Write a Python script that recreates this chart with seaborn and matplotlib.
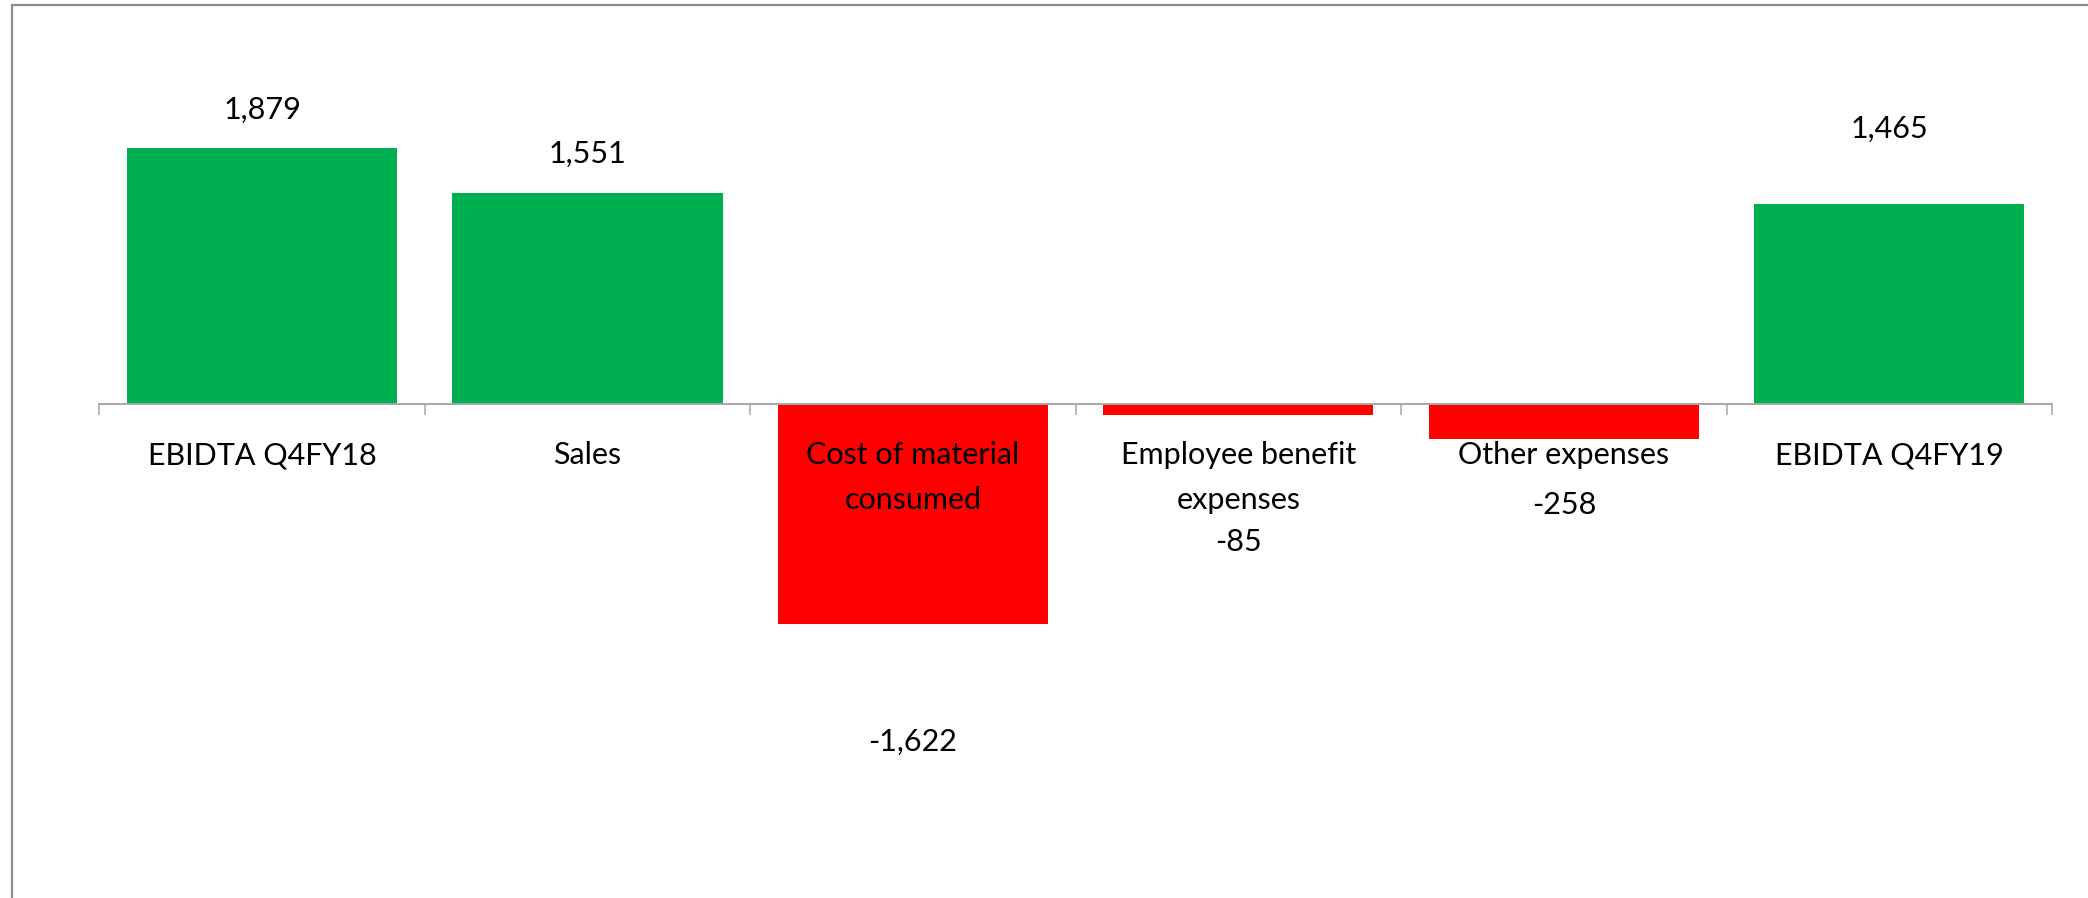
import numpy as np
import pandas as pd
import matplotlib
matplotlib.use("Agg")
import matplotlib.pyplot as plt
from matplotlib.patches import Rectangle
import seaborn as sns

# ---- data ----
categories = ["EBIDTA Q4FY18", "Sales", "Cost of material\nconsumed",
              "Employee benefit\nexpenses", "Other expenses", "EBIDTA Q4FY19"]
values = [1879, 1551, -1622, -85, -258, 1465]
value_labels = ["1,879", "1,551", "-1,622", "-85", "-258", "1,465"]

# ---- styling ----
GREEN = "#00B050"
RED = "#FF0000"
AXIS_GREY = "#A6A6A6"
FRAME_GREY = "#8C8C8C"
label_offsets_px = [38, 39, -118, -127, -66, 76]   # label placement (pixels from bar end)

sns.set_theme(style="white")
plt.rcParams["font.family"] = ["Lato", "DejaVu Sans"]

W, H, DPI = 2088, 898, 100
fig = plt.figure(figsize=(W / DPI, H / DPI), dpi=DPI)
fig.patch.set_facecolor("white")

ax_left_px, ax_right_px = 99.3, 2052
zero_px = 403.7
px_per_unit = 0.13598
ax = fig.add_axes([ax_left_px / W, 0, (ax_right_px - ax_left_px) / W, 1])
ax.set_facecolor("none")

df = pd.DataFrame({"category": categories, "value": values})
palette = [GREEN if v > 0 else RED for v in values]
sns.barplot(data=df, x="category", y="value", hue="category", palette=palette,
            legend=False, width=0.83, saturation=1, ax=ax, linewidth=0,
            order=categories, hue_order=categories)

ax.set_xlim(-0.5, 5.5)
ax.set_ylim(-(H - zero_px) / px_per_unit, zero_px / px_per_unit)

for s in ["left", "right", "top"]:
    ax.spines[s].set_visible(False)
ax.spines["bottom"].set_position(("data", 0))
ax.spines["bottom"].set_color(AXIS_GREY)
ax.spines["bottom"].set_linewidth(1.4)
ax.set_yticks([])
ax.set_xlabel("")
ax.set_ylabel("")

ax.set_xticks(range(len(categories)))
ax.set_xticklabels(categories, fontsize=22, color="black", linespacing=1.75)
ax.set_xticks(np.arange(-0.5, len(categories), 1), minor=True)
ax.tick_params(axis="x", which="major", length=0, pad=27)
ax.tick_params(axis="x", which="minor", length=8, width=1.1, color=AXIS_GREY,
               direction="out", bottom=True)
ax.set_axisbelow(False)

for i, (v, lab, off) in enumerate(zip(values, value_labels, label_offsets_px)):
    ax.annotate(lab, xy=(i, v), xytext=(0, off), textcoords="offset pixels",
                ha="center", va="center", fontsize=22, color="black")

# outer chart frame (left and top edges visible)
frame = Rectangle((12 / W, -0.5), 2.0, (H - 5) / H + 0.5, transform=fig.transFigure,
                  fill=False, edgecolor=FRAME_GREY, linewidth=1.6, clip_on=False)
fig.add_artist(frame)

fig.savefig("out.png", dpi=DPI, facecolor="white")
